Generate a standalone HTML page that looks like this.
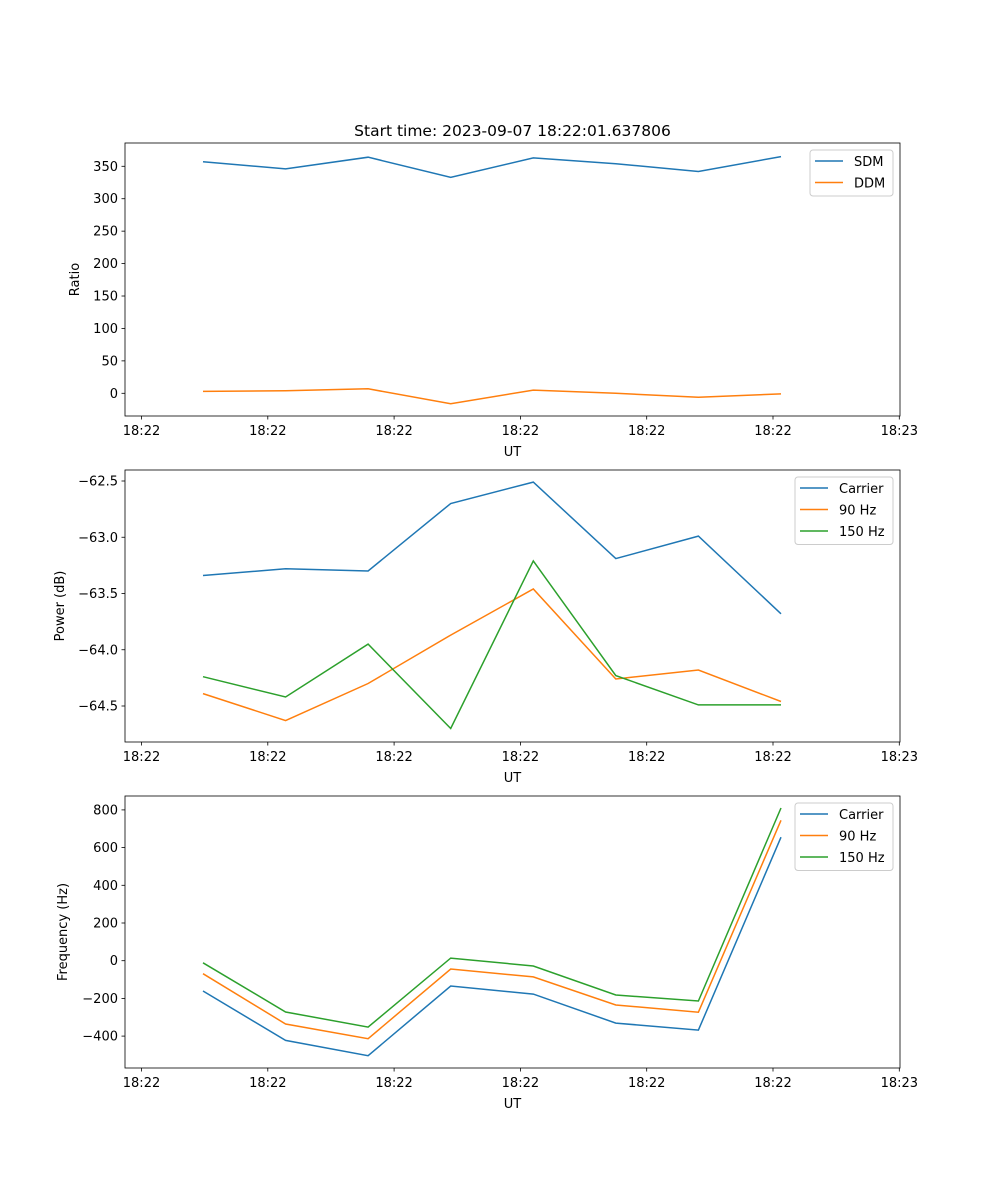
<!DOCTYPE html>
<html><head><meta charset="utf-8"><style>
body{margin:0;background:#fff}
svg{display:block;font-family:"DejaVu Sans","Liberation Sans",sans-serif}
</style></head><body>
<svg id="fig" width="1000" height="1200" viewBox="0 0 1000 1200"></svg>
<script>
const xLabels = ["18:22","18:22","18:22","18:22","18:22","18:22","18:23"];
const pointIdx = [0,1,2,3,4,5,6,7];
const sdm = [357,346,364,333,363,354,342,365];
const ddm = [3,4,7,-16,5,0,-6,-1];
const pCarrier = [-63.34,-63.28,-63.30,-62.70,-62.51,-63.19,-62.99,-63.68];
const p90 = [-64.39,-64.63,-64.30,-63.87,-63.46,-64.26,-64.18,-64.46];
const p150 = [-64.24,-64.42,-63.95,-64.70,-63.21,-64.23,-64.49,-64.49];
const fCarrier = [-161,-423,-504,-134,-177,-331,-368,655];
const f90 = [-69,-336,-414,-44,-86,-235,-273,745];
const f150 = [-11,-272,-352,14,-28,-182,-214,810];
const ticks1 = [0,50,100,150,200,250,300,350];
const ticks2 = [-64.5,-64.0,-63.5,-63.0,-62.5];
const ticks3 = [-400,-200,0,200,400,600,800];

const NS="http://www.w3.org/2000/svg";
const svg=document.getElementById('fig');
function mk(tag,attrs,parent){const e=document.createElementNS(NS,tag);for(const k in attrs)e.setAttribute(k,attrs[k]);(parent||svg).appendChild(e);return e;}
const L=125,R=900;
const xPt=i=>203+i*82.57;
const xTick=i=>141.5+i*126.3;
const C={b:'#1f77b4',o:'#ff7f0e',g:'#2ca02c'};

function panel(name,top,bot,ymap,yticks,fmt,ylabel,series,legend){
  const g=mk('g',{});
  
  
  series.forEach(s=>{
    const pts=pointIdx.map(i=>xPt(i).toFixed(1)+','+ymap(s.v[i]).toFixed(1)).join(' ');
    const pl=mk('polyline',{points:pts,fill:'none',stroke:s.c,'stroke-width':1.5},g);
    
    
  });
  const fr=mk('rect',{x:L,y:top,width:R-L,height:bot-top,fill:'none',stroke:'#000','stroke-width':0.8},g);
  
  
  yticks.forEach(v=>{const y=ymap(v);
    mk('line',{x1:L-3.5,x2:L,y1:y,y2:y,stroke:'#000','stroke-width':0.8},g);
    const t=mk('text',{x:L-7,y:y+4.5,'text-anchor':'end','font-size':13},g);t.textContent=fmt(v);
    
    
  });
  xLabels.forEach((s,i)=>{const x=xTick(i);
    mk('line',{x1:x,x2:x,y1:bot,y2:bot+3.5,stroke:'#000','stroke-width':0.8},g);
    const t=mk('text',{x:x,y:bot+19,'text-anchor':'middle','font-size':13},g);t.textContent=s;
    
    
  });
  const xl=mk('text',{x:(L+R)/2,y:bot+40,'text-anchor':'middle','font-size':13},g);xl.textContent='UT';
  
  
  const yl=mk('text',{x:0,y:0,'text-anchor':'middle','font-size':13,transform:`translate(${legend.yx},${(top+bot)/2}) rotate(-90)`},g);yl.textContent=ylabel;
  
  
  const lg=mk('g',{},g);
  
  
  mk('rect',{x:legend.x,y:top+7,width:R-7-legend.x,height:series.length*21.5+3,rx:3,fill:'#fff',stroke:'#ccc','stroke-width':1,'fill-opacity':0.8},lg);
  series.forEach((s,i)=>{const y=top+18+i*21.5;
    mk('line',{x1:legend.x+5,x2:legend.x+33,y1:y,y2:y,stroke:s.c,'stroke-width':1.5},lg);
    const t=mk('text',{x:legend.x+44,y:y+5,'font-size':13},lg);t.textContent=s.label;
    
    
  });
}
const tt=mk('text',{x:512.5,y:136,'text-anchor':'middle','font-size':15.5});
tt.textContent='Start time: 2023-09-07 18:22:01.637806';



panel('ratio-panel',143,416,v=>393.3-v*0.6486,ticks1,v=>String(v),'Ratio',
  [{n:'sdm',v:sdm,c:C.b,label:'SDM'},{n:'ddm',v:ddm,c:C.o,label:'DDM'}],{x:810,yx:79});
panel('power-panel',470,742,v=>481-(v+62.5)*112.5,ticks2,v=>(v<0?'\u2212':'')+Math.abs(v).toFixed(1),'Power (dB)',
  [{n:'carrier',v:pCarrier,c:C.b,label:'Carrier'},{n:'90hz',v:p90,c:C.o,label:'90 Hz'},{n:'150hz',v:p150,c:C.g,label:'150 Hz'}],{x:795,yx:64});
panel('frequency-panel',796,1068,v=>960.7-v*0.1885,ticks3,v=>(v<0?'\u2212':'')+Math.abs(v),'Frequency (Hz)',
  [{n:'carrier',v:fCarrier,c:C.b,label:'Carrier'},{n:'90hz',v:f90,c:C.o,label:'90 Hz'},{n:'150hz',v:f150,c:C.g,label:'150 Hz'}],{x:795,yx:67});
</script>
</body></html>
